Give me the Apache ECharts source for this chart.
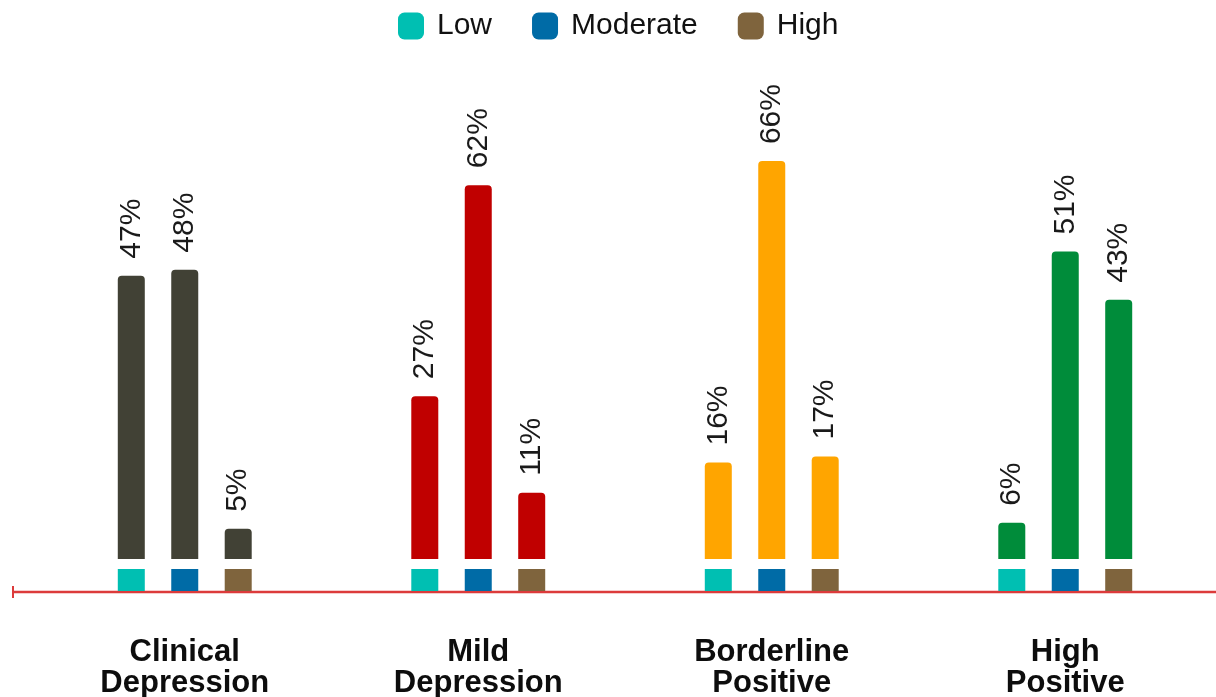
<!DOCTYPE html>
<html>
<head>
<meta charset="utf-8">
<title>Depression levels</title>
<script src="https://cdn.jsdelivr.net/npm/echarts@6/dist/echarts.min.js"></script>
<style>
  html, body { margin: 0; padding: 0; background: #fff; }
  #chartDiv { width: 1216px; height: 697px; }
</style>
</head>
<body>
<div id="chartDiv"></div>
<script>
// 数据
var categories = ['Clinical\nDepression', 'Mild\nDepression', 'Borderline\nPositive', 'High\nPositive'];
var seriesNames = ['Low', 'Moderate', 'High'];
var lowValues = [47, 27, 16, 6];
var moderateValues = [48, 62, 66, 51];
var highValues = [5, 11, 17, 43];

var categoryColors = ['#414135', '#c00000', '#ffa500', '#008c3a'];
var seriesColors = ['#00bfb2', '#006ba6', '#7f643d'];

var chartDiv = echarts.init(document.getElementById('chartDiv'));

var fontName = 'Liberation Sans, Arial, sans-serif';
var barW = 27;
var gap = '98%';

function mainSeries(name, values, idx) {
    return {
        type: 'bar',
        name: name,
        xAxisIndex: 0,
        yAxisIndex: 0,
        barWidth: barW,
        barGap: gap,
        color: seriesColors[idx],
        itemStyle: { borderRadius: [4, 4, 0, 0] },
        data: values.map(function (v, i) {
            return { value: v, itemStyle: { color: categoryColors[i] } };
        }),
        label: {
            show: true,
            position: 'top',
            rotate: 90,
            align: 'left',
            verticalAlign: 'middle',
            distance: 17,
            formatter: '{c}%',
            fontSize: 30,
            fontFamily: fontName,
            color: '#1a1a1a'
        }
    };
}

// 底部小方块
function markerSeries(name, idx) {
    return {
        type: 'bar',
        name: name,
        xAxisIndex: 1,
        yAxisIndex: 1,
        barWidth: barW,
        barGap: gap,
        color: seriesColors[idx],
        silent: true,
        data: categories.map(function () { return 1; })
    };
}

var option = {
    animation: false,
    legend: {
        data: seriesNames,
        left: 393,
        top: 6,
        icon: 'roundRect',
        itemWidth: 26,
        itemHeight: 27,
        itemGap: 40,
        textStyle: {
            fontSize: 30,
            fontFamily: fontName,
            color: '#111',
            padding: [0, 0, 0, 8]
        }
    },
    grid: [
        { left: 38, right: 4, top: 137, bottom: 138, outerBoundsMode: 'none' },
        { left: 38, right: 4, top: 569, bottom: 106, outerBoundsMode: 'none' }
    ],
    xAxis: [
        {
            type: 'category', gridIndex: 0, data: categories,
            axisLine: { show: false }, axisTick: { show: false }, axisLabel: { show: false }
        },
        {
            type: 'category', gridIndex: 1, data: categories,
            axisLine: { show: false }, axisTick: { show: false },
            axisLabel: {
                margin: 46,
                fontSize: 31,
                fontWeight: 'bold',
                fontFamily: fontName,
                lineHeight: 31,
                color: '#0d0d0d'
            }
        }
    ],
    yAxis: [
        { type: 'value', gridIndex: 0, min: 0, max: 70, show: false },
        { type: 'value', gridIndex: 1, min: 0, max: 1, show: false }
    ],
    graphic: [
        {
            type: 'line',
            shape: { x1: 13, y1: 592, x2: 1216, y2: 592 },
            style: { stroke: '#dc3b3b', lineWidth: 2.5 }
        },
        {
            type: 'line',
            shape: { x1: 13, y1: 586, x2: 13, y2: 598 },
            style: { stroke: '#dc3b3b', lineWidth: 2 }
        }
    ],
    series: [
        mainSeries('Low', lowValues, 0),
        mainSeries('Moderate', moderateValues, 1),
        mainSeries('High', highValues, 2),
        markerSeries('Low', 0),
        markerSeries('Moderate', 1),
        markerSeries('High', 2)
    ]
};

chartDiv.setOption(option);
</script>
</body>
</html>
